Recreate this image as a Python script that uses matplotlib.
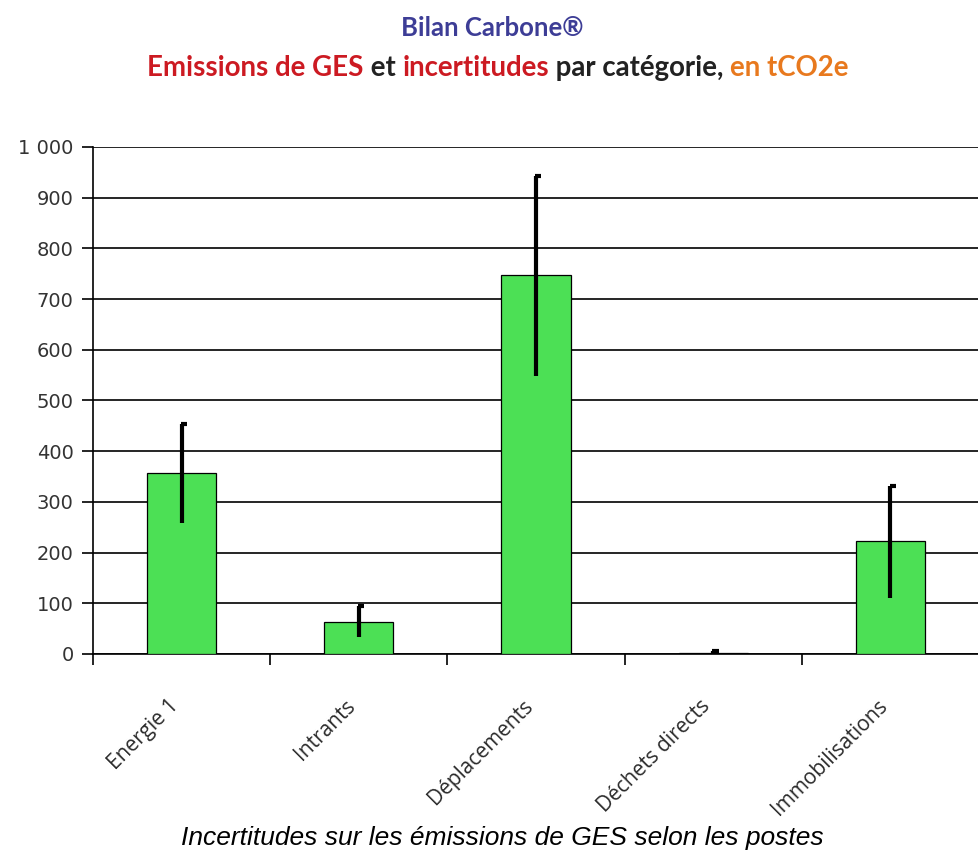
import matplotlib.pyplot as plt
import numpy as np
from matplotlib.ticker import FuncFormatter, MultipleLocator
from matplotlib.transforms import ScaledTranslation

# data (tCO2e)
categories = ['Energie 1', 'Intrants', 'Déplacements', 'Déchets directs', 'Immobilisations']
emissions = [357, 64, 748, 2, 222]
err_up = [97, 31, 195, 3, 110]
err_down = [99, 31, 200, 2, 112]

title_parts = [('Emissions de GES', '#cc1a22'), (' et ', '#222222'),
               ('incertitudes', '#cc1a22'), (' par catégorie, ', '#222222'),
               ('en tCO2e', '#e8791e')]

fig = plt.figure(figsize=(9.79, 8.57), dpi=100)
ax = fig.add_axes([0.095, 0.2369, 0.905, 0.5916])

x = np.arange(len(categories))
ax.bar(x, emissions, width=0.39, color='#4ce055', edgecolor='black', linewidth=0.9, zorder=3)

# error bars : only a small cap on the top end, like in the original spreadsheet
ax.errorbar(x, emissions, yerr=[err_down, err_up], fmt='none', ecolor='black',
            elinewidth=3, capsize=0, zorder=4)
tops = np.array(emissions) + np.array(err_up)
ax.hlines(tops, x - 0.005, x + 0.03, colors='black', linewidth=3, zorder=4)

ax.set_xlim(-0.5, 4.455)
ax.set_ylim(0, 1000)
ax.yaxis.set_major_locator(MultipleLocator(100))
ax.yaxis.set_major_formatter(FuncFormatter(lambda v, p: f'{int(v):,}'.replace(',', ' ')))
ax.grid(axis='y', color='black', linewidth=1.2, zorder=1)
ax.set_axisbelow(True)

for s in ['top', 'right']:
    ax.spines[s].set_visible(False)
ax.spines['left'].set_linewidth(1.2)
ax.spines['bottom'].set_linewidth(1.2)

ax.set_xticks(x)
ax.set_xticklabels(categories, rotation=45, ha='right', rotation_mode='anchor',
                   fontsize=15, color='#2a2a2a', family='Open Sans')
ax.tick_params(axis='x', length=0, pad=30)
# nudge the rotated labels a bit to the left, like the original
off = ScaledTranslation(-10 / 72, 0, fig.dpi_scale_trans)
for lab in ax.get_xticklabels():
    lab.set_transform(lab.get_transform() + off)
ax.set_xticks(np.arange(-0.5, 5, 1), minor=True)
ax.tick_params(axis='x', which='minor', length=8, width=1.2, direction='out')
ax.tick_params(axis='y', length=8, width=1.2, labelsize=14, labelcolor='#333333', pad=6)

# titles
fig.text(0.503, 1 - 28 / 857, 'Bilan Carbone®', ha='center', va='center',
         fontsize=18.5, color='#3d3d96', family='Lato', weight='bold')

fig.canvas.draw()
renderer = fig.canvas.get_renderer()
pieces = []
for txt, col in title_parts:
    t = fig.text(0, 1 - 68 / 857, txt, ha='left', va='center', fontsize=19.9,
                 color=col, family='Lato', weight='bold')
    pieces.append(t)
widths = [t.get_window_extent(renderer).width for t in pieces]
start = 498 - sum(widths) / 2
for t, w in zip(pieces, widths):
    t.set_x(start / fig.bbox.width)
    start += w

fig.text(0.513, 1 - 838 / 857, 'Incertitudes sur les émissions de GES selon les postes',
         ha='center', va='center', fontsize=19, style='italic', family='Liberation Sans')

fig.savefig('out.png', dpi=100)
